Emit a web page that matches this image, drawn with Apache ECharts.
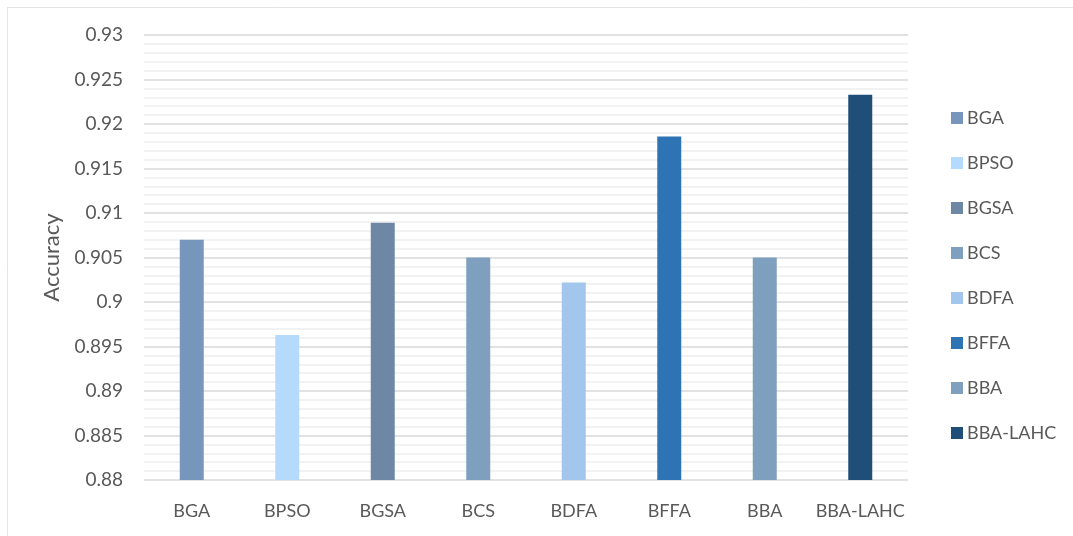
<!DOCTYPE html>
<html>
<head>
<meta charset="utf-8">
<script src="https://cdn.jsdelivr.net/npm/echarts@6/dist/echarts.min.js"></script>
<style>
  html, body { margin: 0; padding: 0; background: #fff; }
  #chart { width: 1073px; height: 536px; }
</style>
</head>
<body>
<div id="chart"></div>
<script>
var methods = ['BGA', 'BPSO', 'BGSA', 'BCS', 'BDFA', 'BFFA', 'BBA', 'BBA-LAHC'];
var accuracy = [0.907, 0.8963, 0.9089, 0.905, 0.9022, 0.9186, 0.905, 0.9233];
var colors = ['#7896bb', '#b4dbfd', '#6e87a4', '#7f9fbe', '#a2c6ec', '#2e74b5', '#7f9fbe', '#1f4e79'];
var yTicks = { min: 0.88, max: 0.93, step: 0.005 };

var font = 'Lato, "Open Sans", sans-serif';
var textColor = '#595959';

// one series per method so every bar gets its own legend entry
var series = methods.map(function (name, i) {
    var d = methods.map(function () { return '-'; });
    d[i] = accuracy[i];
    return {
        name: name,
        type: 'bar',
        data: d,
        barWidth: 24,
        barGap: '-100%',
        itemStyle: { color: colors[i] }
    };
});

var chart = echarts.init(document.getElementById('chart'));
chart.setOption({
    animation: false,
    grid: { left: 144, right: 165, top: 35, bottom: 56 },
    legend: {
        orient: 'vertical',
        left: 946,
        top: 104,
        itemWidth: 12,
        itemHeight: 12,
        itemGap: 27,
        icon: 'rect',
        textStyle: { fontFamily: font, fontSize: 18, color: textColor, padding: [0, 0, 0, -1] },
        data: methods
    },
    xAxis: {
        type: 'category',
        data: methods,
        axisLine: { show: false },
        axisTick: { show: false },
        axisLabel: { interval: 0, fontFamily: font, fontSize: 18, color: textColor, margin: 22 }
    },
    yAxis: {
        type: 'value',
        min: yTicks.min,
        max: yTicks.max,
        interval: yTicks.step,
        name: 'Accuracy',
        nameLocation: 'middle',
        nameGap: 81,
        nameTextStyle: { fontFamily: font, fontSize: 22, color: textColor },
        axisLine: { show: false },
        axisTick: { show: false },
        axisLabel: {
            fontFamily: font, fontSize: 19, color: textColor, margin: 21,
            formatter: function (v) { return String(parseFloat(v.toFixed(3))); }
        },
        splitLine: { lineStyle: { color: '#d9d9d9', width: 1.5 } },
        minorTick: { show: false, splitNumber: 5 },
        minorSplitLine: { show: true, lineStyle: { color: '#eeeeee', width: 1.5 } }
    },
    graphic: [
        { type: 'line', shape: { x1: 7.5, y1: 7, x2: 7.5, y2: 536 }, style: { stroke: '#e4e4e4', lineWidth: 1 } },
        { type: 'line', shape: { x1: 7, y1: 7.5, x2: 1073, y2: 7.5 }, style: { stroke: '#e4e4e4', lineWidth: 1 } }
    ],
    series: series
});
</script>
</body>
</html>
